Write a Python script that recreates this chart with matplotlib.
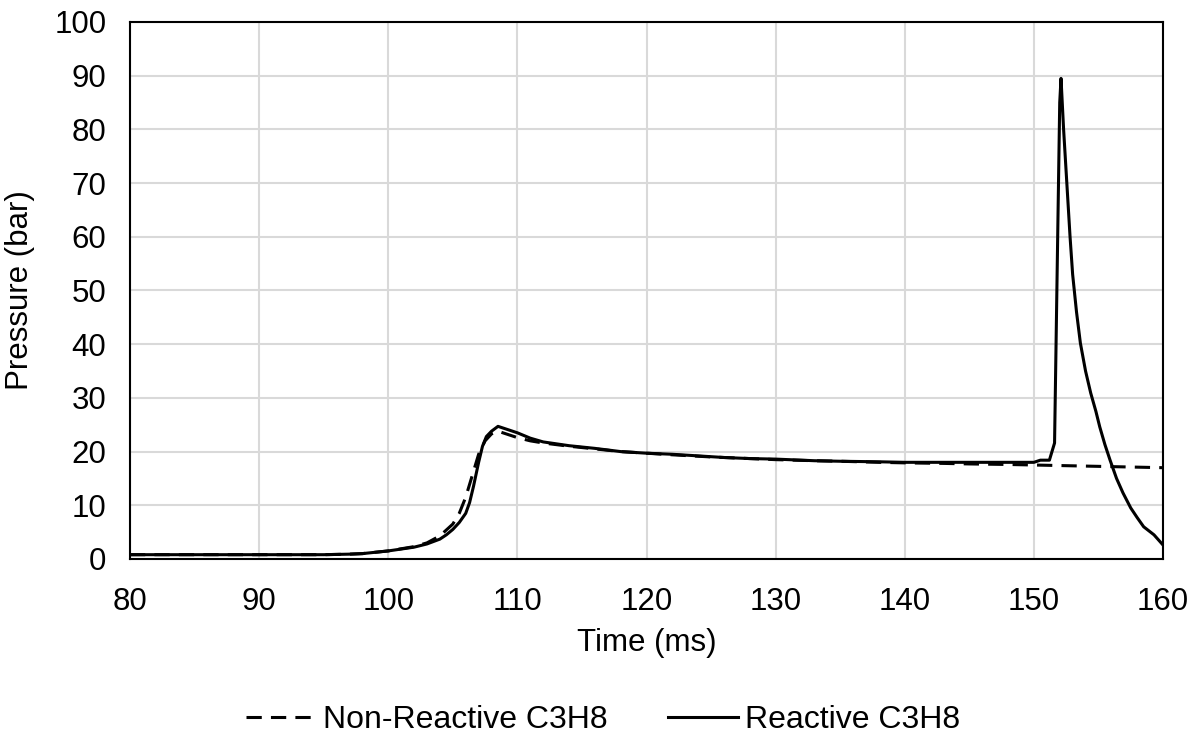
import matplotlib
matplotlib.use("Agg")
import matplotlib.pyplot as plt

plt.rcParams['font.family'] = ['Liberation Sans', 'DejaVu Sans']

# Non-reactive C3H8 (dashed)
t_nr = [80, 90, 95, 97, 98, 100, 102, 103, 104, 105, 105.5, 106, 106.5, 107, 107.5, 108, 108.5,
        109, 110, 111, 112, 114, 116, 118, 120, 122, 125, 128, 130, 133, 135, 138, 140, 143,
        145, 148, 150, 152, 154, 156, 158, 160]
p_nr = [0.8, 0.8, 0.8, 0.9, 1.0, 1.5, 2.3, 3.0, 4.3, 6.5, 8.5, 11.5, 15.5, 19.5, 22.0, 23.3, 23.8,
        23.4, 22.6, 22.0, 21.6, 21.0, 20.5, 20.0, 19.7, 19.4, 19.0, 18.7, 18.5, 18.3, 18.2, 18.0,
        17.9, 17.8, 17.7, 17.6, 17.5, 17.4, 17.3, 17.2, 17.1, 17.0]

# Reactive C3H8 (solid)
t_r = [80, 90, 95, 97, 98, 100, 102, 103, 104, 104.5, 105, 105.5, 106, 106.3, 106.6, 107, 107.3,
       107.6, 108, 108.5, 109, 110, 111, 112, 114, 116, 118, 120, 122, 124, 126, 128, 130, 133,
       135, 138, 140, 143, 145, 148, 150, 150.5, 151.2, 151.6, 152.0, 152.1, 152.3, 152.6, 152.8,
       153.0, 153.3, 153.6, 154.0, 154.4, 154.8, 155.1, 155.5, 155.9, 156.4, 156.9, 157.5, 158.0,
       158.5, 159.3, 160]
p_r = [0.8, 0.8, 0.8, 0.9, 1.0, 1.5, 2.2, 2.8, 3.7, 4.5, 5.5, 6.8, 8.5, 10.5, 13.5, 18.0, 21.0,
       22.8, 23.8, 24.7, 24.3, 23.5, 22.5, 21.8, 21.1, 20.6, 20.0, 19.7, 19.5, 19.2, 18.9, 18.7,
       18.6, 18.3, 18.2, 18.1, 18.0, 18.0, 18.0, 18.0, 18.0, 18.4, 18.4, 21.6, 85.0, 89.5, 80.0,
       68.0, 60.0, 53.0, 46.0, 40.2, 35.0, 30.9, 27.5, 24.6, 21.3, 18.4, 15.0, 12.3, 9.5, 7.7,
       6.0, 4.5, 2.6]

x_ticks = list(range(80, 161, 10))
y_ticks = list(range(0, 101, 10))

fig = plt.figure(figsize=(11.99, 7.33), dpi=100)
ax = fig.add_axes([0.1084, 0.2374, 0.8616, 0.7326])

ax.plot(t_nr, p_nr, color='black', lw=2.2, ls=(0, (5, 3)), label='Non-Reactive C3H8')
ax.plot(t_r, p_r, color='black', lw=2.2, ls='-', label='Reactive C3H8')

ax.set_xlim(80, 160)
ax.set_ylim(0, 100)
ax.set_xticks(x_ticks)
ax.set_yticks(y_ticks)
ax.grid(True, color='#d9d9d9', lw=1.5)
ax.set_axisbelow(True)
for s in ax.spines.values():
    s.set_color('black')
    s.set_linewidth(1.5)
ax.tick_params(axis='both', length=0, labelsize=22.5, colors='black')
ax.tick_params(axis='x', pad=20)
ax.tick_params(axis='y', pad=17)

ax.set_xlabel('Time (ms)', fontsize=22.5, labelpad=8)
ax.set_ylabel('Pressure (bar)', fontsize=22.5, labelpad=14)

fig.legend(loc='center', bbox_to_anchor=(0.503, 0.018), ncol=2, frameon=False, fontsize=23,
           handlelength=2.2, columnspacing=1.9, handletextpad=0.2)

fig.savefig('out.png', dpi=100)
